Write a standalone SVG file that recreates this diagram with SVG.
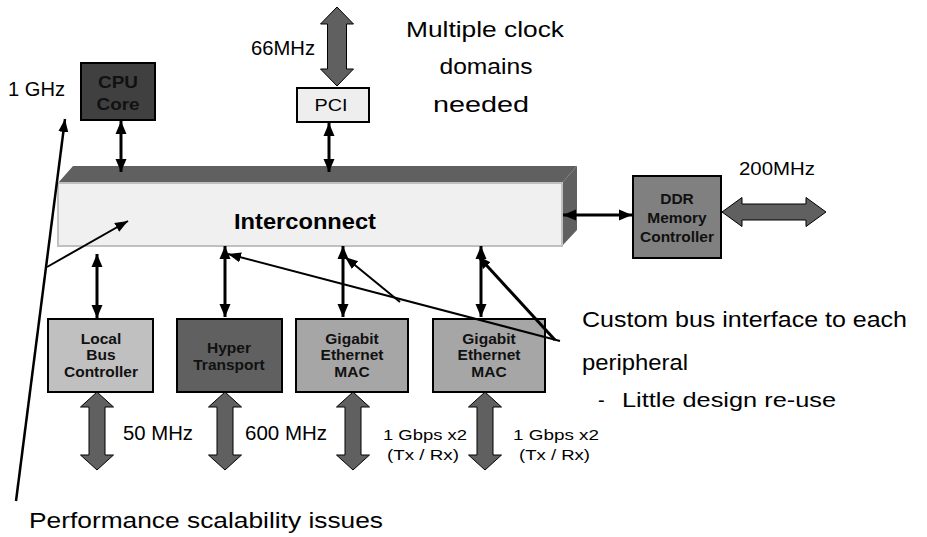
<svg xmlns="http://www.w3.org/2000/svg" width="927" height="537" viewBox="0 0 927 537">
<style>
  text { font-family: "Liberation Sans", Arial, sans-serif; fill: #000; }
  .big { font-size: 22px; }
  .mid { font-size: 20px; }
  .sm { font-size: 15.5px; }
  .lbl { font-size: 15.5px; font-weight: bold; text-anchor: middle; fill: #111; }
  .box { stroke: #000; stroke-width: 2; }
  .blk { fill: #606060; stroke: #000; stroke-width: 1; }
  .bus { stroke: #000; stroke-width: 3; fill: none; marker-start: url(#ah); marker-end: url(#ah); }
  .ann { stroke: #000; stroke-width: 2; fill: none; marker-end: url(#sa); }
</style>
<defs>
  <marker id="ah" markerUnits="userSpaceOnUse" markerWidth="14" markerHeight="14" viewBox="0 0 14 14" refX="13" refY="7" orient="auto-start-reverse">
    <path d="M0,1.5 L13,7 L0,12.5 Z" fill="#000"/>
  </marker>
  <marker id="sa" markerUnits="userSpaceOnUse" markerWidth="14" markerHeight="14" viewBox="0 0 14 14" refX="13" refY="7" orient="auto">
    <path d="M0,2 L13,7 L0,12 Z" fill="#000"/>
  </marker>
</defs>

<g id="interconnect">
  <polygon points="58,183 73,166 577,166 562,183" fill="#606060"/>
  <polygon points="562,183 577,166 577,230 562,246" fill="#606060"/>
  <rect x="58" y="183" width="504" height="63" fill="#f0f0f0" stroke="#c0c0c0" stroke-width="2"/>
  <text x="305" y="229" text-anchor="middle" font-size="22" font-weight="bold" textLength="142" lengthAdjust="spacingAndGlyphs" fill="#111">Interconnect</text>
</g>

<g id="cpu">
  <rect class="box" x="81" y="63" width="74" height="57" fill="#404040"/>
  <text class="lbl" x="118" y="88" style="font-size:17px" textLength="40" lengthAdjust="spacingAndGlyphs">CPU</text>
  <text class="lbl" x="118" y="110" style="font-size:17px" textLength="43" lengthAdjust="spacingAndGlyphs">Core</text>
</g>

<g id="pci">
  <rect class="box" x="297" y="88" width="72" height="34" fill="#eeeeee"/>
  <text x="331" y="111" text-anchor="middle" font-size="16" textLength="33" lengthAdjust="spacingAndGlyphs">PCI</text>
</g>

<g id="ddr">
  <rect class="box" x="633" y="176" width="88" height="82" fill="#808080"/>
  <text class="lbl" x="677" y="204">DDR</text>
  <text class="lbl" x="677" y="223">Memory</text>
  <text class="lbl" x="677" y="242">Controller</text>
</g>

<g id="lbc">
  <rect class="box" x="48" y="319" width="105" height="73" fill="#c0c0c0"/>
  <text class="lbl" x="101" y="344">Local</text>
  <text class="lbl" x="101" y="360">Bus</text>
  <text class="lbl" x="101" y="377">Controller</text>
</g>

<g id="ht">
  <rect class="box" x="177" y="319" width="105" height="73" fill="#606060"/>
  <text class="lbl" x="229" y="353">Hyper</text>
  <text class="lbl" x="229" y="370">Transport</text>
</g>

<g id="ge1">
  <rect class="box" x="296" y="319" width="112" height="73" fill="#a6a6a6"/>
  <text class="lbl" x="352" y="344">Gigabit</text>
  <text class="lbl" x="352" y="360">Ethernet</text>
  <text class="lbl" x="352" y="377">MAC</text>
</g>

<g id="ge2">
  <rect class="box" x="433" y="319" width="112" height="73" fill="#a6a6a6"/>
  <text class="lbl" x="489" y="344">Gigabit</text>
  <text class="lbl" x="489" y="360">Ethernet</text>
  <text class="lbl" x="489" y="377">MAC</text>
</g>

<g id="connectors">
  <path class="blk" d="M337,7 L353.5,24 L346.5,24 L346.5,69 L353.5,69 L337,86 L320.5,69 L327.5,69 L327.5,24 L320.5,24 Z"/>
  <path class="blk" d="M722,212 L742,197.5 L742,204 L806,204 L806,197.5 L826,212 L806,226.5 L806,220 L742,220 L742,226.5 Z"/>
  <path class="blk" d="M97,392 L113.5,407 L105,407 L105,455 L113.5,455 L97,470 L80.5,455 L89,455 L89,407 L80.5,407 Z"/>
  <path class="blk" d="M225,392 L241.5,407 L233,407 L233,455 L241.5,455 L225,470 L208.5,455 L217,455 L217,407 L208.5,407 Z"/>
  <path class="blk" d="M353,392 L369.5,407 L361,407 L361,455 L369.5,455 L353,470 L336.5,455 L345,455 L345,407 L336.5,407 Z"/>
  <path class="blk" d="M485,392 L501.5,407 L493,407 L493,455 L501.5,455 L485,470 L468.5,455 L477,455 L477,407 L468.5,407 Z"/>
  <line class="bus" x1="121" y1="121" x2="121" y2="172"/>
  <line class="bus" x1="329" y1="123" x2="329" y2="172"/>
  <line class="bus" x1="563" y1="215" x2="632" y2="215"/>
  <line class="bus" x1="97" y1="254" x2="97" y2="318"/>
  <line class="bus" x1="225" y1="246" x2="225" y2="317"/>
  <line class="bus" x1="343" y1="246" x2="343" y2="317"/>
  <line class="bus" x1="481" y1="246" x2="481" y2="317"/>
  <line class="ann" x1="16" y1="501" x2="65" y2="119" style="stroke-width:2.5"/>
  <line class="ann" x1="47" y1="267" x2="128" y2="221"/>
  <line class="ann" x1="560" y1="341" x2="228" y2="254"/>
  <line class="ann" x1="400" y1="302" x2="345" y2="257"/>
  <line class="ann" x1="555" y1="340" x2="478" y2="256" style="stroke-width:3"/>
</g>

<g id="labels">
  <text class="mid" x="8" y="96" textLength="57" lengthAdjust="spacingAndGlyphs">1 GHz</text>
  <text class="mid" x="251" y="55" textLength="64" lengthAdjust="spacingAndGlyphs">66MHz</text>
  <text class="big" x="485" y="37" text-anchor="middle" textLength="158" lengthAdjust="spacingAndGlyphs">Multiple clock</text>
  <text class="big" x="486" y="74" text-anchor="middle" textLength="93" lengthAdjust="spacingAndGlyphs">domains</text>
  <text class="big" x="481" y="112" text-anchor="middle" textLength="96" lengthAdjust="spacingAndGlyphs">needed</text>
  <text class="mid" x="739" y="175" style="font-size:19px" textLength="76" lengthAdjust="spacingAndGlyphs">200MHz</text>
  <text class="mid" x="123" y="440" textLength="70" lengthAdjust="spacingAndGlyphs">50 MHz</text>
  <text class="mid" x="245" y="440" textLength="82" lengthAdjust="spacingAndGlyphs">600 MHz</text>
  <text class="sm" x="383" y="440" textLength="84" lengthAdjust="spacingAndGlyphs">1 Gbps x2</text>
  <text class="sm" x="387" y="460" textLength="72" lengthAdjust="spacingAndGlyphs">(Tx / Rx)</text>
  <text class="sm" x="513" y="440" textLength="86" lengthAdjust="spacingAndGlyphs">1 Gbps x2</text>
  <text class="sm" x="519" y="460" textLength="71" lengthAdjust="spacingAndGlyphs">(Tx / Rx)</text>
  <text class="big" x="582" y="327" textLength="325" lengthAdjust="spacingAndGlyphs">Custom bus interface to each</text>
  <text class="big" x="582" y="370" textLength="106" lengthAdjust="spacingAndGlyphs">peripheral</text>
  <text class="big" x="598" y="407" style="font-size:20px">-</text>
  <text class="big" x="622" y="407" style="font-size:20px" textLength="214" lengthAdjust="spacingAndGlyphs">Little design re-use</text>
  <text class="big" x="29" y="528" textLength="354" lengthAdjust="spacingAndGlyphs">Performance scalability issues</text>
</g>
</svg>
